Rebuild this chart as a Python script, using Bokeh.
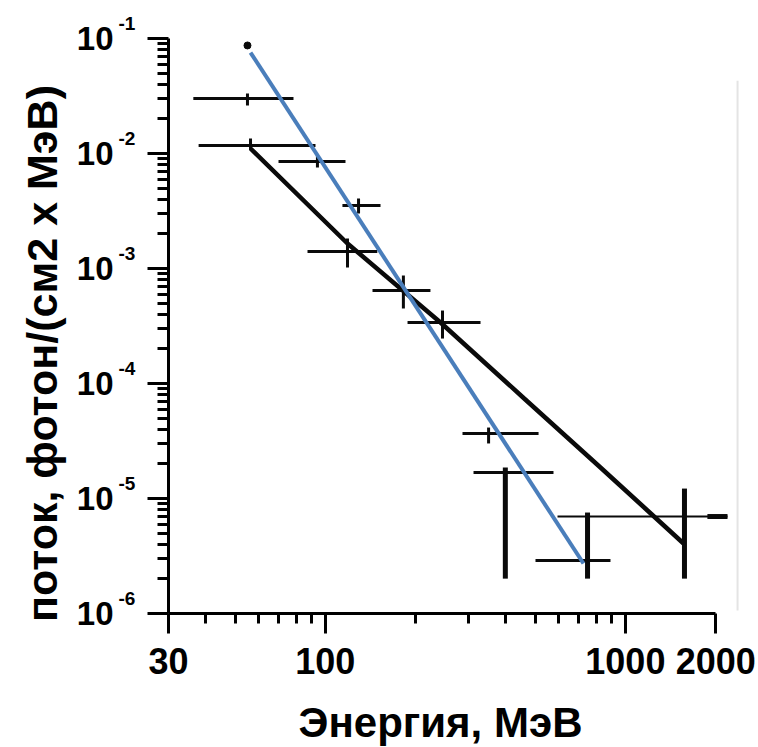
from bokeh.plotting import figure
from bokeh.models import FixedTicker, CustomJSTickFormatter, Label, Range1d, ColumnDataSource
from bokeh.embed import file_html
from bokeh.resources import INLINE
import math

# ---------------- data ----------------
# measured points with error bars
energy    = [55.0, 56.3, 94.1, 129.0, 118.5, 182.0, 245.7, 350.0, 398.0, 748.0, 1574.0]
flux      = [3.01e-2, 1.174e-2, 8.52e-3, 3.53e-3, 1.405e-3, 6.44e-4, 3.39e-4, 3.67e-5, 1.68e-5, 2.89e-6, 6.97e-6]
energy_lo = [36.3, 37.8, 69.8, 114.0, 87.2, 143.6, 187.9, 286.5, 311.8, 501.7, 594.0]
energy_hi = [78.3, 92.7, 116.7, 152.7, 149.0, 224.0, 329.0, 513.6, 576.0, 892.0, 2190.0]
flux_lo   = [2.62e-2, 1.07e-2, 7.55e-3, 3.01e-3, 1.02e-3, 4.49e-4, 2.46e-4, 3.01e-5, 2.01e-6, 2.01e-6, 2.01e-6]
flux_hi   = [3.33e-2, 1.35e-2, 9.6e-3, 4.06e-3, 1.82e-3, 8.69e-4, 4.31e-4, 4.14e-5, 1.86e-5, 7.55e-6, 1.22e-5]

# black hand-drawn fit line
fit_energy = [56.3, 118.5, 242.0, 458.0, 826.0, 1185.0, 1563.0]
fit_flux   = [1.105e-2, 1.65e-3, 3.39e-4, 7.48e-5, 1.86e-5, 7.86e-6, 4.06e-6]

# blue power-law line
blue_energy = [56.3, 725.0]
blue_flux   = [7.55e-2, 2.72e-6]

# upper-limit arrow head on the last point
arrow_energy = [1877.0, 2190.0]
arrow_flux   = [6.97e-6, 6.97e-6]

# dark dot at start of the blue line
dot_energy = [55.0]
dot_flux   = [8.7e-2]

# faint right edge of the scanned figure
edge_energy = [2366.0, 2366.0]
edge_flux   = [1.06e-6, 4.3e-2]

# ticks
x_ticks = [30, 100, 1000, 2000]
x_minor = [40, 50, 60, 70, 80, 90, 200, 300, 400, 500, 600, 700, 800, 900]
y_ticks = [1e-6, 1e-5, 1e-4, 1e-3, 1e-2, 1e-1]
y_exponents = ["-6", "-5", "-4", "-3", "-2", "-1"]
y_minor = [m * d for d in [1e-6, 1e-5, 1e-4, 1e-3, 1e-2] for m in range(2, 10)]

x_title = "Энергия, МэВ"
y_title = "поток, фотон/(см2 х МэВ)"

# styles
vbar_width = [3, 3, 3, 3, 3, 3, 3, 3, 5, 5, 5]
hbar_width = [3, 3, 3, 3, 3, 3, 3, 3, 3, 3, 2]
FONT = "Liberation Sans"
INK = "#0a0a0a"

W, H = 758, 747
# the frame fills the whole canvas; axes sit at fixed data locations
X_LEFT_PX, Y_BOTTOM_PX = 168, 613          # where 30 MeV / 1e-6 sit
PX_PER_DEC_X, PX_PER_DEC_Y = 300.0, 115.0
x_start = 30 * 10 ** (-X_LEFT_PX / PX_PER_DEC_X)
x_end = 30 * 10 ** ((W - X_LEFT_PX) / PX_PER_DEC_X)
y_start = 1e-6 * 10 ** (-(H - Y_BOTTOM_PX) / PX_PER_DEC_Y)
y_end = 1e-6 * 10 ** (Y_BOTTOM_PX / PX_PER_DEC_Y)

p = figure(width=W, height=H, x_axis_type="log", y_axis_type="log",
           x_range=Range1d(x_start, x_end), y_range=Range1d(y_start, y_end),
           output_backend="svg", toolbar_location=None, min_border=0)
p.outline_line_color = None
p.grid.visible = False
p.background_fill_color = "white"
p.border_fill_color = "white"

# x axis
xa = p.xaxis[0]
xa.fixed_location = 1e-6
xa.ticker = FixedTicker(ticks=x_ticks, minor_ticks=x_minor)
xa.formatter = CustomJSTickFormatter(code="return String(tick)")
xa.bounds = (30, 2000)
xa.axis_line_width = 3
xa.axis_line_color = "black"
xa.major_tick_out = 20
xa.major_tick_in = 0
xa.minor_tick_out = 10
xa.minor_tick_in = 0
xa.major_tick_line_width = 3
xa.minor_tick_line_width = 3
xa.major_tick_line_color = "black"
xa.minor_tick_line_color = "black"
xa.major_label_text_font = FONT
xa.major_label_text_font_style = "bold"
xa.major_label_text_font_size = "36px"
xa.major_label_text_color = "black"
xa.major_label_standoff = 14

# y axis
ya = p.yaxis[0]
ya.fixed_location = 30
ya.ticker = FixedTicker(ticks=y_ticks, minor_ticks=y_minor)
ya.formatter = CustomJSTickFormatter(code='return "10"')
ya.bounds = (1e-6, 1e-1)
ya.axis_line_width = 3
ya.axis_line_color = "black"
ya.major_tick_out = 21
ya.major_tick_in = 0
ya.minor_tick_out = 11
ya.minor_tick_in = 0
ya.major_tick_line_width = 3
ya.minor_tick_line_width = 3
ya.major_tick_line_color = "black"
ya.minor_tick_line_color = "black"
ya.major_label_text_font = FONT
ya.major_label_text_font_style = "bold"
ya.major_label_text_font_size = "33px"
ya.major_label_text_color = "black"
ya.major_label_standoff = 34

# exponents of the y tick labels
for t, e in zip(y_ticks, y_exponents):
    p.add_layout(Label(x=30, y=t, x_offset=-50, y_offset=15, text=e,
                       text_font=FONT, text_font_style="bold",
                       text_font_size="19px", text_color="black",
                       text_align="left", text_baseline="middle"))

# axis titles
p.add_layout(Label(x=41, y=H - 353, x_units="screen", y_units="screen",
                   text=y_title, angle=math.pi / 2,
                   text_font=FONT, text_font_style="bold", text_font_size="43px",
                   text_color="black", text_align="center", text_baseline="middle"))
p.add_layout(Label(x=440, y=H - 722, x_units="screen", y_units="screen",
                   text=x_title,
                   text_font=FONT, text_font_style="bold", text_font_size="42px",
                   text_color="black", text_align="center", text_baseline="middle"))

# faint edge line
p.line(edge_energy, edge_flux, line_color="#e4e4e4", line_width=2)

src = ColumnDataSource(dict(e=energy, f=flux, elo=energy_lo, ehi=energy_hi,
                            flo=flux_lo, fhi=flux_hi, vw=vbar_width, hw=hbar_width))
p.segment(x0="elo", x1="ehi", y0="f", y1="f", source=src, line_color=INK, line_width="hw")
p.segment(x0="e", x1="e", y0="flo", y1="fhi", source=src, line_color=INK, line_width="vw")
p.line(arrow_energy, arrow_flux, line_color=INK, line_width=5)

p.line(fit_energy, fit_flux, line_color=INK, line_width=4.5)
p.scatter(dot_energy, dot_flux, size=7, color=INK)
p.line(blue_energy, blue_flux, line_color="#4a7ebb", line_width=4)

open("out.html", "w").write(file_html(p, INLINE))
